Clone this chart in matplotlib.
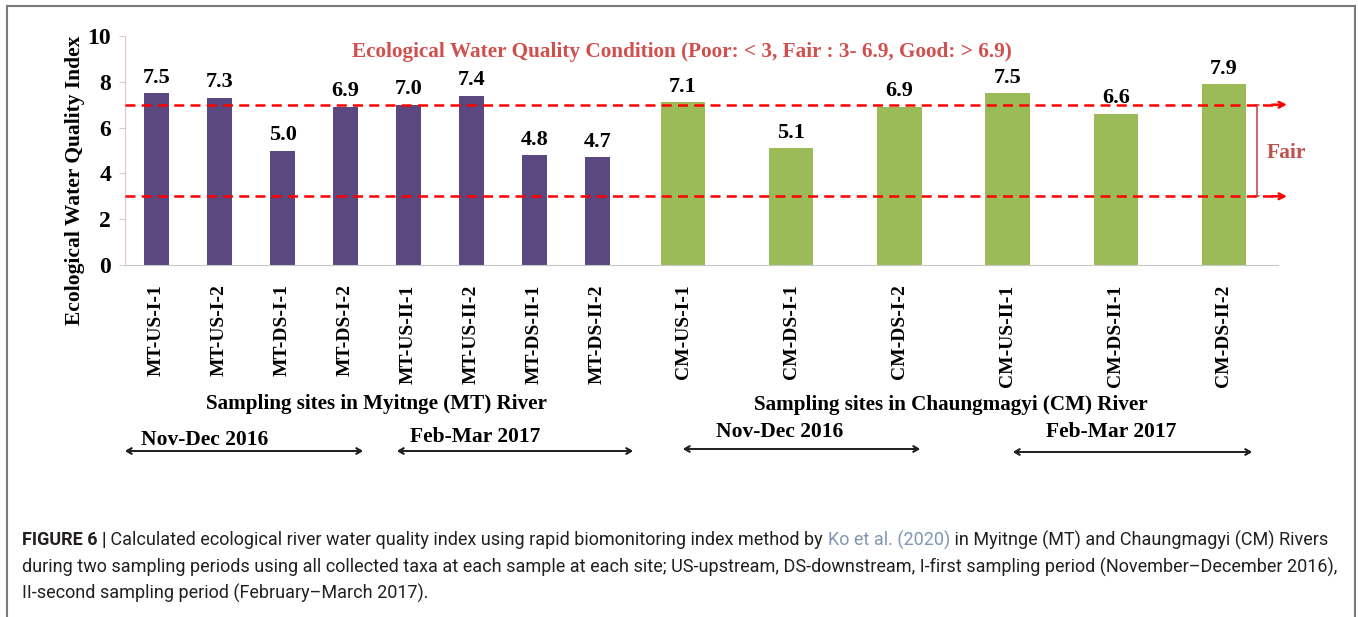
import matplotlib.pyplot as plt
import matplotlib.transforms as mtransforms
from matplotlib.lines import Line2D
from matplotlib.patches import Rectangle

# data
mt_sites = ['MT-US-I-1', 'MT-US-I-2', 'MT-DS-I-1', 'MT-DS-I-2',
            'MT-US-II-1', 'MT-US-II-2', 'MT-DS-II-1', 'MT-DS-II-2']
mt_values = [7.5, 7.3, 5.0, 6.9, 7.0, 7.4, 4.8, 4.7]
cm_sites = ['CM-US-I-1', 'CM-DS-I-1', 'CM-DS-I-2',
            'CM-US-II-1', 'CM-DS-II-1', 'CM-DS-II-2']
cm_values = [7.1, 5.1, 6.9, 7.5, 6.6, 7.9]
fair_low, fair_high = 3, 7
y_ticks = [0, 2, 4, 6, 8, 10]

W, H = 1358, 617
fig = plt.figure(figsize=(W / 100, H / 100), dpi=100)


def fx(px):
    return px / W


def fy(py):
    return 1 - py / H


serif = 'Liberation Serif'
purple = '#5c4880'
green = '#9bbb59'
red_txt = '#cf504d'
bold = dict(family=serif, fontweight='bold')

ax1 = fig.add_axes([fx(125), fy(265), fx(629) - fx(125), fy(36) - fy(265)])
ax2 = fig.add_axes([fx(629), fy(265), fx(1278) - fx(629), fy(36) - fy(265)], sharey=ax1)

for ax, sites, vals, col in [(ax1, mt_sites, mt_values, purple),
                             (ax2, cm_sites, cm_values, green)]:
    x = range(len(sites))
    ax.bar(x, vals, width=0.41, color=col, zorder=2)
    for i, v in zip(x, vals):
        ax.annotate(f'{v:.1f}', (i, v), xytext=(0, 4), textcoords='offset points',
                    ha='center', va='bottom', fontsize=16, color='black', **bold)
    ax.set_xlim(-0.5, len(sites) - 0.5)
    ax.set_xticks(list(x))
    ax.set_xticklabels(sites, rotation=90, fontsize=14, va='top', ha='center', **bold)
    ax.tick_params(axis='x', length=0, pad=14)
    ax.spines['top'].set_visible(False)
    ax.spines['right'].set_visible(False)
    ax.spines['bottom'].set_color('#c8c8c8')
    ax.patch.set_alpha(0)

ax1.set_ylim(0, 10)
ax1.set_yticks(y_ticks)
ax1.set_yticklabels([str(t) for t in y_ticks], fontsize=17, **bold)
ax1.tick_params(axis='y', length=4, color='#e0c8c8', pad=6)
ax1.spines['left'].set_color('#e0c8c8')
ax1.set_ylabel('Ecological Water Quality Index', fontsize=15.5, va='center', **bold)
ax1.yaxis.set_label_coords(-0.099, 0.37)
ax2.spines['left'].set_visible(False)
ax2.tick_params(axis='y', left=False, labelleft=False)

# fair band dashed lines across both panels
tr = mtransforms.blended_transform_factory(fig.transFigure, ax1.transData)
for yv in [fair_high, fair_low]:
    fig.add_artist(Line2D([fx(125), fx(1276)], [yv, yv], transform=tr, color='red',
                          lw=1.8, ls=(0, (4, 2.5)), zorder=5))
    ax1.annotate('', xy=(fx(1287), yv), xycoords=tr, xytext=(fx(1272), yv), textcoords=tr,
                 arrowprops=dict(arrowstyle='->', color='red', lw=1.8,
                                 shrinkA=0, shrinkB=0), annotation_clip=False)

ax1.annotate('', xy=(fx(1257), fair_high), xycoords=tr, xytext=(fx(1257), fair_low),
             textcoords=tr, annotation_clip=False,
             arrowprops=dict(arrowstyle='|-|,widthA=0.15,widthB=0.15', color='#c0504d',
                             lw=1.2, shrinkA=0, shrinkB=0))
fig.text(fx(1267), fy(153), 'Fair', ha='left', va='center', fontsize=15.5, color='#c0504d', **bold)

fig.text(fx(682), fy(52), 'Ecological Water Quality Condition (Poor: < 3, Fair : 3- 6.9, Good: > 6.9)',
         ha='center', va='center', fontsize=15.3, color=red_txt, **bold)

fig.text(fx(377), fy(404), 'Sampling sites in Myitnge (MT) River', ha='center', va='center',
         fontsize=15.2, **bold)
fig.text(fx(951), fy(405), 'Sampling sites in Chaungmagyi (CM) River', ha='center', va='center',
         fontsize=15.2, **bold)

periods = [('Nov-Dec 2016', 205, 440, 125, 363, 451),
           ('Feb-Mar 2017', 475, 437, 397, 633, 451),
           ('Nov-Dec 2016', 780, 432, 683, 920, 449),
           ('Feb-Mar 2017', 1111, 432, 1013, 1252, 452)]
for lab, tx, ty, x0, x1, ya in periods:
    fig.text(fx(tx), fy(ty), lab, ha='center', va='center', fontsize=15.5, **bold)
    fig.add_artist(plt.annotate('', xy=(fx(x1), fy(ya)), xycoords='figure fraction',
                                xytext=(fx(x0), fy(ya)), textcoords='figure fraction',
                                arrowprops=dict(arrowstyle='<->,head_length=0.35,head_width=0.2',
                                                color='#222222', lw=1.3, shrinkA=0, shrinkB=0)))

# border
fig.add_artist(Rectangle((fx(7), fy(640)), fx(1355) - fx(7), fy(6) - fy(640),
                         transform=fig.transFigure, fill=False, ec='#7a7a7a', lw=1.5))

# caption
renderer = fig.canvas.get_renderer()
cap_font = 'Roboto'
probe = fig.text(0, 0, 'during two sampling periods using all collected taxa at each sample at each site; '
                 'US-upstream, DS-downstream, I-first sampling period (November\u2013December 2016),',
                 fontsize=10, family=cap_font)
cap_size = 10 * (1312 / probe.get_window_extent(renderer).width)
probe.remove()


def put(x, y, s, **kw):
    t = fig.text(x, y, s, ha='left', va='center', fontsize=cap_size, family=cap_font, **kw)
    return x + t.get_window_extent(renderer).width / W


x = put(fx(22), fy(540), 'FIGURE 6 |', fontweight='bold', color='#231f20')
x = put(x, fy(540), ' Calculated ecological river water quality index using rapid biomonitoring index method by ',
        color='#231f20')
x = put(x, fy(540), 'Ko et al. (2020)', color='#7f97b5')
put(x, fy(540), ' in Myitnge (MT) and Chaungmagyi (CM) Rivers', color='#231f20')
put(fx(22), fy(567), 'during two sampling periods using all collected taxa at each sample at each site; '
    'US-upstream, DS-downstream, I-first sampling period (November\u2013December 2016),', color='#231f20')
put(fx(22), fy(593), 'II-second sampling period (February\u2013March 2017).', color='#231f20')

fig.savefig('out.png', dpi=100)
